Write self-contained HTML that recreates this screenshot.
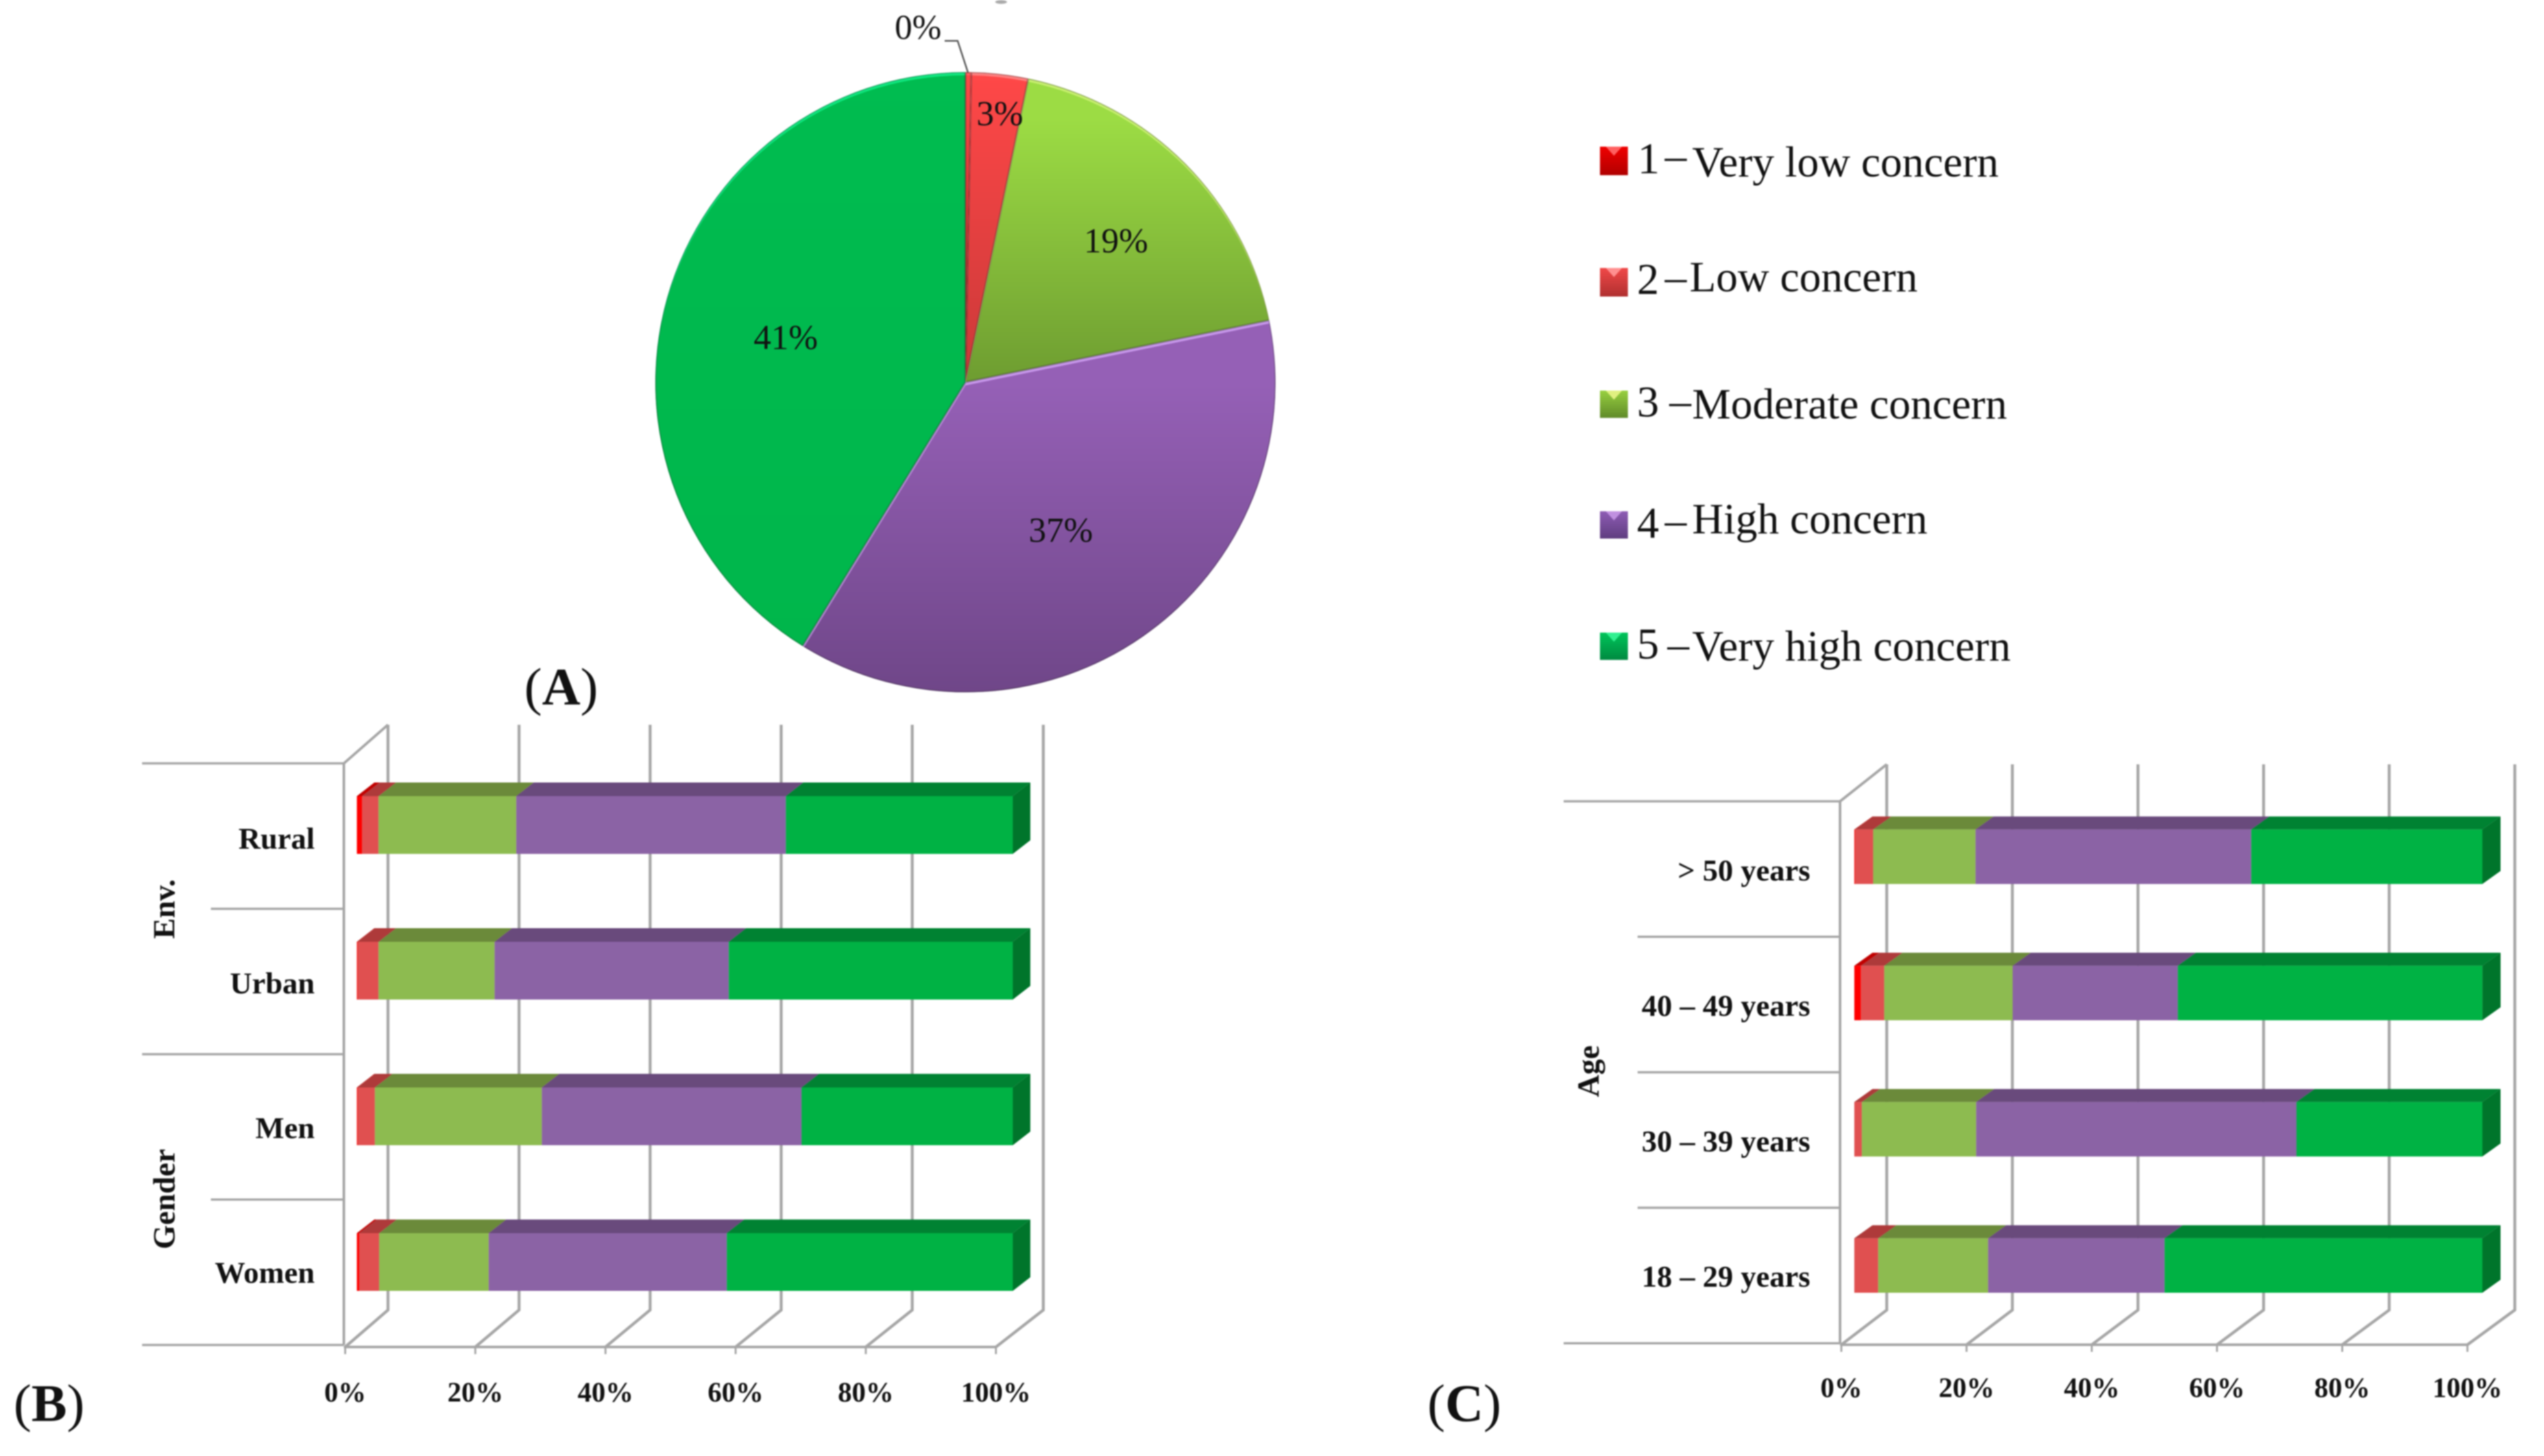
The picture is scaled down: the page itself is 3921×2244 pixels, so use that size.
<!DOCTYPE html>
<html lang="en">
<head>
<meta charset="utf-8">
<title>Concern levels by environment, gender and age</title>
<style>
html,body{margin:0;padding:0;background:#fff;}
svg{display:block;filter:blur(1px);}
text{font-family:"Liberation Serif","DejaVu Serif",serif;fill:#111;}
.lg{font-size:67px;}
.num{font-size:68px;}
.tick{font-weight:bold;font-size:43px;text-anchor:middle;}
.cat{font-weight:bold;font-size:47px;text-anchor:end;}
.group{font-weight:bold;font-size:48px;text-anchor:middle;}
.pie{font-size:54px;text-anchor:middle;}
.panel{font-size:82px;}
.panel tspan{font-weight:bold;}
</style>
</head>
<body>
<svg id="figure" xmlns="http://www.w3.org/2000/svg" width="3921" height="2244" viewBox="0 0 3921 2244">
  <defs>
    <linearGradient id="sw1" x1="0" y1="0" x2="0" y2="1"><stop offset="0" stop-color="#f00000"/><stop offset="1" stop-color="#b00000"/></linearGradient>
    <linearGradient id="sw2" x1="0" y1="0" x2="0" y2="1"><stop offset="0" stop-color="#f04848"/><stop offset="1" stop-color="#b03030"/></linearGradient>
    <linearGradient id="sw3" x1="0" y1="0" x2="0" y2="1"><stop offset="0" stop-color="#98d040"/><stop offset="1" stop-color="#5f8a28"/></linearGradient>
    <linearGradient id="sw4" x1="0" y1="0" x2="0" y2="1"><stop offset="0" stop-color="#8e5cb4"/><stop offset="1" stop-color="#5f3d80"/></linearGradient>
    <linearGradient id="sw5" x1="0" y1="0" x2="0" y2="1"><stop offset="0" stop-color="#00c45a"/><stop offset="1" stop-color="#008a40"/></linearGradient>
  </defs>
  <rect width="3921" height="2244" fill="#fff"/>

  <g id="pie-chart"></g>
  <ellipse cx="1543" cy="3" rx="9" ry="3" fill="#aaa"/>
  <g id="chart-b"></g>
  <g id="chart-c"></g>

  <g>
    <g>
      <rect x="2466" y="226" width="43" height="44" fill="url(#sw1)"/>
      <polygon points="2475,226 2500,226 2487.5,240" fill="#ff6060"/>
      <text class="num" x="2524" y="267">1</text>
      <text class="lg" x="2566" y="262">–</text>
      <text class="lg" x="2608" y="272">Very low concern</text>
    </g>
    <g>
      <rect x="2466" y="413" width="43" height="44" fill="url(#sw2)"/>
      <polygon points="2475,413 2500,413 2487.5,427" fill="#ff9090"/>
      <text class="num" x="2523" y="453">2</text>
      <text class="lg" x="2566" y="449">–</text>
      <text class="lg" x="2604" y="449">Low concern</text>
    </g>
    <g>
      <rect x="2466" y="602" width="43" height="42" fill="url(#sw3)"/>
      <polygon points="2475,602 2500,602 2487.5,616" fill="#e0f080"/>
      <text class="num" x="2523" y="642">3</text>
      <text class="lg" x="2573" y="640">–</text>
      <text class="lg" x="2608" y="645">Moderate concern</text>
    </g>
    <g>
      <rect x="2466" y="788" width="43" height="42" fill="url(#sw4)"/>
      <polygon points="2475,788 2500,788 2487.5,802" fill="#c090e0"/>
      <text class="num" x="2523" y="829">4</text>
      <text class="lg" x="2566" y="824">–</text>
      <text class="lg" x="2608" y="822">High concern</text>
    </g>
    <g>
      <rect x="2466" y="975" width="43" height="42" fill="url(#sw5)"/>
      <polygon points="2475,975 2500,975 2487.5,989" fill="#30f090"/>
      <text class="num" x="2523" y="1015">5</text>
      <text class="lg" x="2570" y="1015">–</text>
      <text class="lg" x="2608" y="1018">Very high concern</text>
    </g>
  </g>

  <text class="panel" x="808" y="1086">(<tspan>A</tspan>)</text>
  <text class="panel" x="21" y="2190">(<tspan>B</tspan>)</text>
  <text class="panel" x="2200" y="2190">(<tspan>C</tspan>)</text>
</svg>

<script>
// ---------- Shared series styling ----------
const seriesNames = ['very-low', 'low', 'moderate', 'high', 'very-high'];
const frontColors = ['#ff0000', '#e05050', '#8dbb50', '#8b63a5', '#00b244'];
const topColors = ['#c00000', '#ae3a3a', '#6b8a3a', '#694a7c', '#008232'];

// ---------- Panel A: pie ----------
const pieValues = [0.3, 2.95, 18.55, 37, 41.2];
const pieLabels = ['0%', '3%', '19%', '37%', '41%'];

// ---------- Panel B ----------
const tickValues = [0, 20, 40, 60, 80, 100];
const tickLabels = ['0%', '20%', '40%', '60%', '80%', '100%'];
const categoriesB = ['Rural', 'Urban', 'Men', 'Women'];
const veryLowB = [0.8, 0.1, 0.1, 0.35];
const lowB = [2.5, 3.2, 2.65, 3.05];
const moderateB = [21, 17.7, 25.45, 16.7];
const highB = [41.1, 35.7, 39.6, 36.3];
const veryHighB = [34.6, 43.3, 32.2, 43.6];

// ---------- Panel C ----------
const categoriesC = ['> 50 years', '40 – 49 years', '30 – 39 years', '18 – 29 years'];
const veryLowC = [0.1, 1.06, 0, 0];
const lowC = [2.9, 3.7, 1.2, 3.8];
const moderateC = [16.3, 20.45, 18.2, 17.5];
const highC = [43.9, 26.3, 51, 28.1];
const veryHighC = [36.8, 48.5, 29.6, 50.6];

const NS = 'http://www.w3.org/2000/svg';
const GRID = '#a6a6a6';

function mk(parent, tag, attrs, text) {
  const el = document.createElementNS(NS, tag);
  for (const k in attrs) el.setAttribute(k, attrs[k]);
  if (text !== undefined) el.textContent = text;
  parent.appendChild(el);
  return el;
}

function poly(points) {
  return points.map(p => p[0].toFixed(1) + ',' + p[1].toFixed(1)).join(' ');
}

// ---------- Pie ----------
function drawPie() {
  const root = document.getElementById('pie-chart');
  const figure = document.getElementById('figure');
  const defs = figure.querySelector('defs');
  const cx = 1488, cy = 589, r = 478;
  const top = ['#ff4848', '#ff4848', '#9cdc44', '#9560b6', '#00bc50'];
  const bottom = ['#c02020', '#c83838', '#6c9a30', '#6f4688', '#00b64b'];
  const rim = ['#ff6060', '#ff8080', '#c8f070', '#c898ec', '#10e880'];
  const gradY1 = [110, 110, 180, 589, 110];
  const gradY2 = [600, 600, 600, 1067, 1067];
  const total = pieValues.reduce((a, b) => a + b, 0);
  const labelAnchors = [[1415, 60], [1541, 193], [1720, 389], [1635, 835], [1211, 538]];
  let acc = 0;
  pieValues.forEach((v, i) => {
    const a0 = acc / total * 2 * Math.PI;
    acc += v;
    const a1 = acc / total * 2 * Math.PI;
    const large = (a1 - a0) > Math.PI ? 1 : 0;
    const d = 'M' + cx + ' ' + cy +
      ' L' + (cx + r * Math.sin(a0)).toFixed(2) + ' ' + (cy - r * Math.cos(a0)).toFixed(2) +
      ' A' + r + ' ' + r + ' 0 ' + large + ' 1 ' + (cx + r * Math.sin(a1)).toFixed(2) + ' ' + (cy - r * Math.cos(a1)).toFixed(2) + ' Z';

    const grad = mk(defs, 'linearGradient', {id: 'pieGrad' + i, gradientUnits: 'userSpaceOnUse',
      x1: 0, y1: gradY1[i], x2: 0, y2: gradY2[i]});
    mk(grad, 'stop', {offset: 0, 'stop-color': top[i]});
    mk(grad, 'stop', {offset: 1, 'stop-color': bottom[i]});
    const clip = mk(defs, 'clipPath', {id: 'pieClip' + i});
    mk(clip, 'path', {d: d});

    const g = mk(root, 'g', {'clip-path': 'url(#pieClip' + i + ')'});
    
    
    const base = mk(g, 'path', {d: d, fill: rim[i]});
    
    
    const face = mk(g, 'path', {d: d, fill: 'url(#pieGrad' + i + ')', transform: 'translate(0,5)'});
    
    
    const edge = mk(g, 'path', {d: d, fill: 'none', stroke: 'rgba(40,40,40,0.35)', 'stroke-width': 3});
    
    
  });
  const leader = mk(root, 'polyline', {points: '1456,63 1476,63 1492,112', fill: 'none', stroke: '#555', 'stroke-width': 2.5});
  
  
  pieLabels.forEach((t, i) => {
    const el = mk(root, 'text', {class: 'pie', x: labelAnchors[i][0], y: labelAnchors[i][1]}, t);
    
    
  });
}

// ---------- 3D stacked bars ----------
function drawChart(rootId, cfg, categories, series) {
  const root = document.getElementById(rootId);
  const barX = v => cfg.barX0 + v * (cfg.barX1 - cfg.barX0) / 100;
  const frontX = t => cfg.frontX0 + t * (cfg.frontX1 - cfg.frontX0) / 100;
  const backX = t => cfg.backX0 + t * (cfg.backX1 - cfg.backX0) / 100;
  const lineY = i => cfg.lineY0 + i * cfg.lineStep;
  const barY = i => cfg.barY0 + i * cfg.barStep;
  const catY = i => cfg.catY0 + i * cfg.catStep;
  const bottomY = lineY(categories.length);

  // category separators
  for (let i = 0; i <= categories.length; i++) {
    const long = cfg.longLines.indexOf(i) >= 0;
    const l = mk(root, 'line', {x1: long ? cfg.lineLong : cfg.lineShort, x2: cfg.wallX, y1: lineY(i), y2: lineY(i), stroke: GRID, 'stroke-width': 3.5});
    
    
  }
  // left wall (front edge and top edge; the floor edge is the 0% gridline)
  const wall = mk(root, 'polyline', {points: poly([[cfg.wallX, bottomY], [cfg.wallX, lineY(0)], [backX(0), cfg.backTop]]), fill: 'none', stroke: GRID, 'stroke-width': 4});
  
  
  // baseline
  const base = mk(root, 'line', {x1: cfg.wallX, x2: frontX(100), y1: cfg.baseY, y2: cfg.baseY, stroke: GRID, 'stroke-width': 4});
  
  

  tickValues.forEach((t, i) => {
    const grid = mk(root, 'polyline', {points: poly([[backX(t), cfg.backTop], [backX(t), cfg.backBottom], [frontX(t), cfg.baseY]]), fill: 'none', stroke: GRID, 'stroke-width': 4.5});
    
    
    const tick = mk(root, 'line', {x1: frontX(t), x2: frontX(t), y1: cfg.baseY, y2: cfg.baseY + 11, stroke: GRID, 'stroke-width': 3});
    
    
    const lab = mk(root, 'text', {class: 'tick', x: frontX(t), y: cfg.tickY}, tickLabels[i]);
    
    
  });

  // bars
  categories.forEach((c, i) => {
    const y = barY(i);
    const g = mk(root, 'g', {});
    
    
    let acc = 0;
    series.forEach((vals, s) => {
      const a = barX(acc);
      acc += vals[i];
      const b = barX(acc);
      const topFace = mk(g, 'polygon', {points: poly([[a, y], [a + cfg.dx, y - cfg.dy], [b + cfg.dx, y - cfg.dy], [b, y]]), fill: topColors[s]});
      
      
      const front = mk(g, 'rect', {x: a, y: y, width: Math.max(0, b - a), height: cfg.barH, fill: frontColors[s]});
      
      
    });
    const end = barX(acc);
    const side = mk(g, 'polygon', {points: poly([[end, y], [end + cfg.dx, y - cfg.dy], [end + cfg.dx, y + cfg.barH - cfg.dy], [end, y + cfg.barH]]), fill: '#00752b'});
    
    

    const lab = mk(root, 'text', {class: 'cat', x: cfg.catX, y: catY(i)}, c);
    
    
  });

  cfg.groups.forEach(gr => {
    const t = mk(root, 'text', {class: 'group', x: 0, y: 0, transform: 'translate(' + gr[1] + ',' + gr[2] + ') rotate(-90)'}, gr[0]);
    
    
  });
}

drawPie();

drawChart('chart-b', {
  barX0: 550, barX1: 1561, barY0: 1227, barStep: 224.5, barH: 89, dx: 27, dy: 21,
  frontX0: 532, frontX1: 1535, backX0: 598, backX1: 1608,
  backTop: 1117, backBottom: 2019, baseY: 2076, tickY: 2160,
  wallX: 530, lineY0: 1176.5, lineStep: 224.1, lineLong: 219, lineShort: 325, longLines: [0, 2, 4],
  catX: 485, catY0: 1308, catStep: 223,
  groups: [['Env.', 269, 1401], ['Gender', 269, 1848]]
}, categoriesB, [veryLowB, lowB, moderateB, highB, veryHighB]);

drawChart('chart-c', {
  barX0: 2858, barX1: 3826, barY0: 1278.4, barStep: 210, barH: 84, dx: 28, dy: 20,
  frontX0: 2838, frontX1: 3803, backX0: 2908, backX1: 3876,
  backTop: 1178, backBottom: 2019, baseY: 2072.5, tickY: 2153,
  wallX: 2836, lineY0: 1235, lineStep: 208.8, lineLong: 2410, lineShort: 2524, longLines: [0, 4],
  catX: 2790, catY0: 1357, catStep: 208.7,
  groups: [['Age', 2464, 1651]]
}, categoriesC, [veryLowC, lowC, moderateC, highC, veryHighC]);
</script>
</body>
</html>
